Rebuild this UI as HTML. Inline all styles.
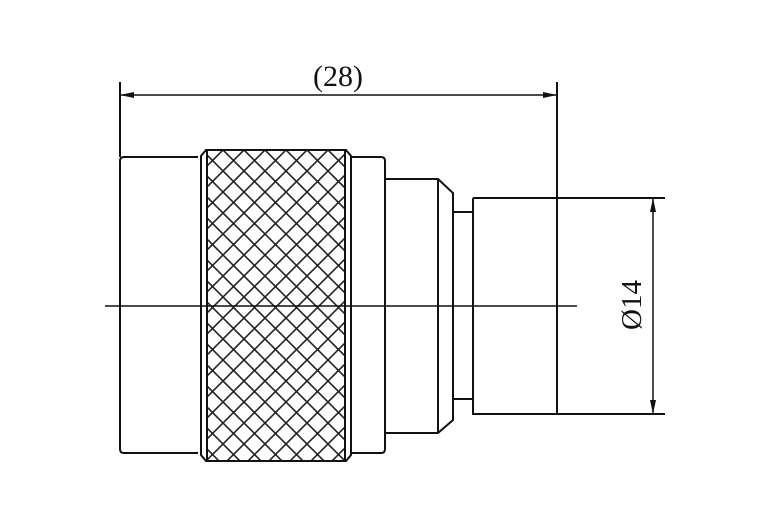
<!DOCTYPE html>
<html><head><style>html,body{margin:0;padding:0;background:#fff}svg{display:block}</style></head>
<body>
<svg width="774" height="523" viewBox="0 0 774 523" xmlns="http://www.w3.org/2000/svg">
<defs>
<pattern id="kn" patternUnits="userSpaceOnUse" width="21" height="21" x="202" y="150">
<path d="M0,0 L21,21 M21,0 L0,21 M-2,19 L2,23 M19,-2 L23,2 M19,23 L23,19 M-2,2 L2,-2" stroke="#222" stroke-width="1.6" fill="none"/>
</pattern>
<clipPath id="kc"><rect x="207" y="150" width="138" height="311"/></clipPath>
</defs>
<g fill="none" stroke="#111" stroke-width="2">
<line x1="120" y1="82" x2="120" y2="157"/>
<line x1="557" y1="82" x2="557" y2="414"/>
<line x1="120" y1="95" x2="557" y2="95" stroke-width="1.5"/>
<path d="M198,157 L124,157 Q120,157 120,161 L120,449 Q120,453 124,453 L198,453"/>
<rect x="207" y="150" width="138" height="311" fill="url(#kn)" stroke="none" clip-path="url(#kc)"/>
<path d="M206,150 L346,150 L351,156 L351,455 L346,461 L206,461 L201,455 L201,156 Z"/>
<line x1="207" y1="150" x2="207" y2="461"/>
<line x1="345" y1="150" x2="345" y2="461"/>
<path d="M352,157 L381,157 Q385,157 385,161 L385,449 Q385,453 381,453 L352,453"/>
<path d="M385,179 L438,179 L453,193 L453,420 L438,433 L385,433"/>
<line x1="438" y1="179" x2="438" y2="433"/>
<path d="M453,212 L473,212 M453,399 L473,399"/>
<path d="M473,198 L665,198 M473,198 L473,414 L665,414"/>
<line x1="653" y1="198" x2="653" y2="414" stroke-width="1.5"/>
<line x1="105" y1="306" x2="577" y2="306" stroke-width="1.6"/>
</g>
<g fill="#111">
<path d="M120,95 L134,92 L134,98 Z"/>
<path d="M557,95 L543,92 L543,98 Z"/>
<path d="M653,198 L650,212 L656,212 Z"/>
<path d="M653,414 L650,400 L656,400 Z"/>
</g>
<text x="338" y="86" font-family="Liberation Serif, serif" font-size="30" text-anchor="middle" fill="#111">(28)</text>
<text transform="translate(641,305) rotate(-90)" font-family="Liberation Serif, serif" font-size="29" text-anchor="middle" fill="#111">Ø14</text>
</svg>
</body></html>
